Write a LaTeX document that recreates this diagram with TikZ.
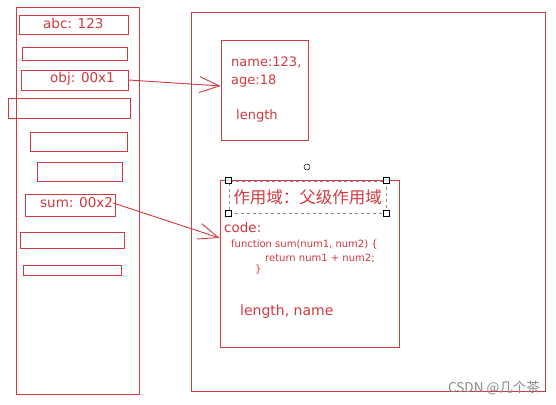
\documentclass[tikz,border=0pt]{standalone}
\usepackage{fontspec}
\setmainfont{DejaVu Sans}
\newfontfamily\cjk{Noto Sans CJK SC}
\usetikzlibrary{arrows.meta}
\definecolor{inkred}{HTML}{D0393F}
\definecolor{markgray}{HTML}{8A8A8A}
\tikzset{
  cell/.style={draw=inkred, line width=0.9pt, inner sep=0pt, minimum width=#1},
  frame/.style={draw=inkred, line width=0.9pt},
  txt/.style={text=inkred, inner sep=0pt, anchor=west, font=\fontsize{13.5}{15}\selectfont},
  code/.style={txt, font=\fontsize{10}{12}\selectfont},
  ptr/.style={draw=inkred, line width=0.9pt, -{Straight Barb[length=20pt,width=16pt,line width=0.9pt]}},
  handle/.style={draw=black, fill=white, line width=0.5pt, minimum size=6pt, inner sep=0pt},
}
\begin{document}
\begin{tikzpicture}[x=1pt,y=-1pt]
\useasboundingbox[fill=white] (0,0) rectangle (556,404);
% stack
\draw[frame] (16,7) rectangle (139,394);
\node[cell=109pt, minimum height=19pt] (s1) at (73.5,24.5) {};
\node[txt] (t1) at (43,23) {abc: 123};
\node[cell=105pt, minimum height=13pt] (s2) at (74.5,53.5) {};
\node[cell=107pt, minimum height=20pt] (s3) at (74.5,80) {};
\node[txt] (t3) at (50,79) {obj: 00x1};
\node[cell=122pt, minimum height=20pt] (s4) at (69,108) {};
\node[cell=97pt, minimum height=19pt] (s5) at (78.5,141.5) {};
\node[cell=85pt, minimum height=19pt] (s6) at (79.5,171.5) {};
\node[cell=90pt, minimum height=22pt] (s7) at (70,205) {};
\node[txt] (t7) at (40,203) {sum: 00x2};
\node[cell=104pt, minimum height=16pt] (s8) at (72,240) {};
\node[cell=98pt, minimum height=10pt] (s9) at (72,270) {};
% heap
\draw[frame] (191,12) rectangle (545,391);
\node[cell=87pt, minimum height=100pt] (h1) at (264.5,90) {};
\node[txt, font=\fontsize{13}{15}\selectfont] (n1) at (231,62) {name:123,};
\node[txt, font=\fontsize{13}{15}\selectfont] (n2) at (231,81) {age:18};
\node[txt, font=\fontsize{13}{15}\selectfont] (n3) at (236,116) {length};
\node[cell=179pt, minimum height=167pt] (h2) at (309.5,263.5) {};
\node[draw=markgray, dashed, line width=0.8pt, minimum width=157pt, minimum height=32pt, inner sep=0pt] (sel) at (307.5,197) {};
\node[text=inkred, inner sep=0pt, font=\cjk\fontsize{16.5}{18}\selectfont] (scope) at (307.5,197) {作用域：父级作用域};
\node[handle] (k1) at (sel.north west) {};
\node[handle] (k2) at (sel.north east) {};
\node[handle] (k3) at (sel.south west) {};
\node[handle] (k4) at (sel.south east) {};
\node[draw=black, circle, line width=0.5pt, minimum size=6pt, inner sep=0pt] (rot) at (307,167) {};
\node[txt] (c1) at (224,227) {code:};
\node[code] (c2) at (231,245) {function sum(num1, num2) \{};
\node[code] (c3) at (265,258) {return num1 + num2;};
\node[code] (c4) at (255,270) {\}};
\node[txt, font=\fontsize{14}{16}\selectfont] (c5) at (240,312) {length, name};
% pointers
\draw[ptr] (s3.east) -- (h1.west |- 0,86);
\draw[ptr] (t7.east) -- (h2.west |- 0,238);
% watermark
\node[text=markgray, inner sep=0pt, anchor=east, font=\cjk\fontsize{13.5}{15}\selectfont] (wm) at (540,388) {CSDN @几个茶};
\end{tikzpicture}
\end{document}
